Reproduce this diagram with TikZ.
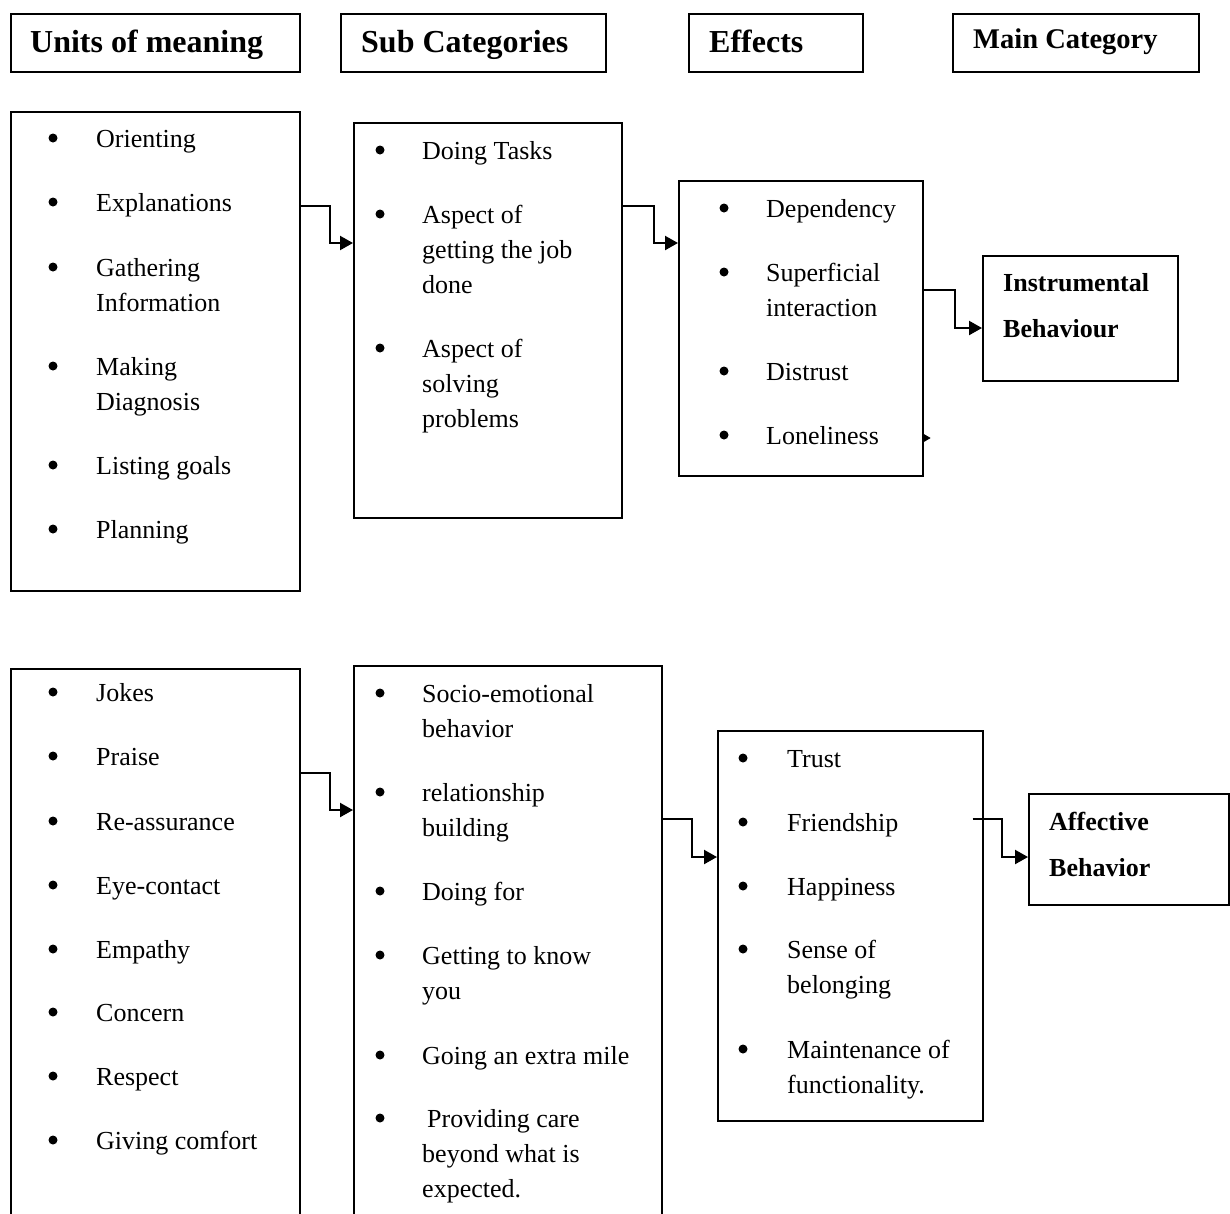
\documentclass[tikz,border=0pt]{standalone}
\usepackage{fontspec}
\setmainfont{Liberation Serif}
\usetikzlibrary{arrows.meta}
\tikzset{
  box/.style={draw, line width=1.6pt, anchor=north west, inner sep=0pt},
  hdr/.style={anchor=base west, inner sep=0pt, font=\fontsize{32}{38}\selectfont\bfseries},
  hdrs/.style={anchor=base west, inner sep=0pt, font=\fontsize{28.5}{34}\selectfont\bfseries},
  itm/.style={anchor=base west, inner sep=0pt, font=\fontsize{26}{35}\selectfont},
  mainc/.style={anchor=base west, inner sep=0pt, font=\fontsize{26}{46}\selectfont\bfseries},
  dot/.style={circle, fill, inner sep=0pt, minimum size=9pt},
  conn/.style={line width=2.2pt, -{Triangle[length=13pt,width=14pt]}},
}
\newcommand\bitem[5]{%
  \node[dot] (#1d) at (#2,#4-9) {};
  \node[itm] (#1) at (#3,#4) {\parbox[t]{320pt}{\raggedright #5}};}
\begin{document}
\begin{tikzpicture}[x=1pt,y=-1pt]
\useasboundingbox (0,0) rectangle (1230,1213);
\fill[white] (0,0) rectangle (1230,1213);
\clip (0,0) rectangle (1230,1213);

% header boxes
\node[box, minimum width=289pt, minimum height=58pt] (h1) at (10,13) {};
\node[box, minimum width=265pt, minimum height=58pt] (h2) at (340,13) {};
\node[box, minimum width=174pt, minimum height=58pt] (h3) at (688,13) {};
\node[box, minimum width=246pt, minimum height=58pt] (h4) at (952,13) {};
\node[hdr] (h1t) at (30,52) {Units of meaning};
\node[hdr] (h2t) at (361,52) {Sub Categories};
\node[hdr] (h3t) at (709,52) {Effects};
\node[hdrs] (h4t) at (973,48) {Main Category};

% top row boxes
\node[box, minimum width=289pt, minimum height=479pt] (u1) at (10,111) {};
\node[box, minimum width=268pt, minimum height=395pt] (s1) at (353,122) {};
\node[box, minimum width=244pt, minimum height=295pt] (e1) at (678,180) {};
\node[box, minimum width=195pt, minimum height=125pt] (ins) at (982,255) {};

% bottom row boxes
\node[box, minimum width=289pt, minimum height=592pt] (u2) at (10,668) {};
\node[box, minimum width=308pt, minimum height=595pt] (s2) at (353,665) {};
\node[box, minimum width=265pt, minimum height=390pt] (e2) at (717,730) {};
\node[box, minimum width=200pt, minimum height=111pt] (aff) at (1028,793) {};

% top left items
\bitem{a1}{53}{96}{147}{Orienting}
\bitem{a2}{53}{96}{211}{Explanations}
\bitem{a3}{53}{96}{276}{Gathering\\Information}
\bitem{a4}{53}{96}{375}{Making\\Diagnosis}
\bitem{a5}{53}{96}{474}{Listing goals}
\bitem{a6}{53}{96}{538}{Planning}

% top middle items
\bitem{b1}{380}{422}{159}{Doing Tasks}
\bitem{b2}{380}{422}{223}{Aspect of\\getting the job\\done}
\bitem{b3}{380}{422}{357}{Aspect of\\solving\\problems}

% top effects
\bitem{c1}{724}{766}{217}{Dependency}
\bitem{c2}{724}{766}{281}{Superficial\\interaction}
\bitem{c3}{724}{766}{380}{Distrust}
\bitem{c4}{724}{766}{444}{Loneliness}

\node[mainc] (insT) at (1003,291) {\parbox[t]{190pt}{\raggedright Instrumental\\Behaviour}};

% bottom left items
\bitem{d1}{53}{96}{701}{Jokes}
\bitem{d2}{53}{96}{765}{Praise}
\bitem{d3}{53}{96}{830}{Re-assurance}
\bitem{d4}{53}{96}{894}{Eye-contact}
\bitem{d5}{53}{96}{958}{Empathy}
\bitem{d6}{53}{96}{1021}{Concern}
\bitem{d7}{53}{96}{1085}{Respect}
\bitem{d8}{53}{96}{1149}{Giving comfort}

% bottom middle items
\bitem{f1}{380}{422}{702}{Socio-emotional\\behavior}
\bitem{f2}{380}{422}{801}{relationship\\building}
\bitem{f3}{380}{422}{900}{Doing for}
\bitem{f4}{380}{422}{964}{Getting to know\\you}
\bitem{f5}{380}{422}{1064}{Going an extra mile}
\bitem{f6}{380}{422}{1127}{\hspace*{5pt}Providing care\\beyond what is\\expected.}

% bottom effects
\bitem{g1}{743}{787}{767}{Trust}
\bitem{g2}{743}{787}{831}{Friendship}
\bitem{g3}{743}{787}{895}{Happiness}
\bitem{g4}{743}{787}{958}{Sense of\\belonging}
\bitem{g5}{743}{787}{1058}{Maintenance of\\functionality.}

\node[mainc] (affT) at (1049,830) {\parbox[t]{170pt}{\raggedright Affective\\Behavior}};

% connectors
\draw[conn] ([yshift=-95pt]u1.north east) -- ++(29,0) |- ([yshift=-121pt]s1.north west);
\draw[conn] ([yshift=-84pt]s1.north east) -- ++(31,0) |- ([yshift=-63pt]e1.north west);
\draw[conn] ([yshift=-110pt]e1.north east) -- ++(31,0) |- ([yshift=-73pt]ins.north west);
\draw[line width=0.8pt, -{Triangle[length=7pt,width=8pt]}] ([yshift=-258pt]e1.north east) -- ++(7,0);
\draw[conn] ([yshift=-105pt]u2.north east) -- ++(29,0) |- ([yshift=-145pt]s2.north west);
\draw[conn] ([yshift=-154pt]s2.north east) -- ++(29,0) |- ([yshift=-127pt]e2.north west);
\draw[conn] ([xshift=-11pt,yshift=-89pt]e2.north east) -- ++(29,0) |- ([yshift=-64pt]aff.north west);
\end{tikzpicture}
\end{document}
